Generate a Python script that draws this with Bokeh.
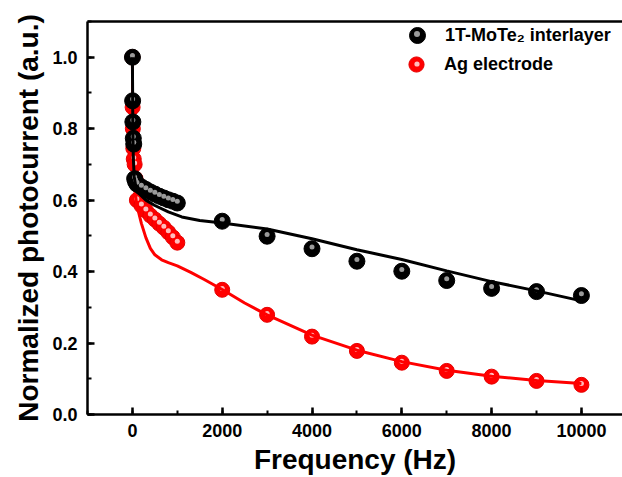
from bokeh.plotting import figure
from bokeh.models import (Range1d, SingleIntervalTicker, FixedTicker, LinearAxis,
                          Legend, LegendItem, ColumnDataSource, PrintfTickFormatter)
from bokeh.transform import dodge
from bokeh.embed import file_html
from bokeh.resources import INLINE

# ---- data ----
black_freq = [1, 5, 10, 20, 30, 50, 70, 100, 200, 300, 400, 500, 600, 700, 800, 900, 1000,
              2000, 3000, 4000, 5000, 6000, 7000, 8000, 9000, 10000]
black_norm = [1.0, 0.878, 0.819, 0.773, 0.757, 0.66, 0.652, 0.645, 0.637, 0.630, 0.623, 0.617,
              0.611, 0.606, 0.601, 0.597, 0.592,
              0.541, 0.499, 0.464, 0.429, 0.401, 0.375, 0.353, 0.344, 0.333]

red_freq = [1, 5, 10, 20, 30, 50, 70, 100, 200, 300, 400, 500, 600, 700, 800, 900, 1000,
            2000, 3000, 4000, 5000, 6000, 7000, 8000, 9000, 10000]
red_norm = [1.0, 0.86, 0.80, 0.745, 0.715, 0.70, 0.66, 0.60, 0.585, 0.571, 0.557, 0.546,
            0.534, 0.523, 0.510, 0.496, 0.481,
            0.349, 0.279, 0.218, 0.178, 0.145, 0.122, 0.106, 0.094, 0.083]

black_fit_freq = [0, 10, 20, 40, 80, 150, 300, 500, 800, 1100, 1500, 2000, 3000, 4000,
                  5000, 6000, 7000, 8000, 9000, 10000]
black_fit_norm = [1.0, 0.80, 0.72, 0.665, 0.635, 0.618, 0.60, 0.585, 0.567, 0.553, 0.543,
                  0.536, 0.519, 0.492, 0.461, 0.434, 0.402, 0.372, 0.346, 0.318]

red_fit_freq = [0, 5, 15, 40, 100, 200, 300, 400, 500, 650, 800, 1000, 1300, 1600, 2000,
                2500, 3000, 4000, 5000, 6000, 7000, 8000, 9000, 10000]
red_fit_norm = [1.0, 0.85, 0.72, 0.64, 0.585, 0.535, 0.495, 0.465, 0.447, 0.433, 0.425,
                0.416, 0.398, 0.378, 0.35, 0.312, 0.279, 0.222, 0.18, 0.148, 0.124, 0.107,
                0.095, 0.087]

series_labels = ["1T-MoTe\u2082 interlayer", "Ag electrode"]
x_label = "Frequency (Hz)"
y_label = "Normalized photocurrent (a.u.)"

FONT = "Liberation Sans"

p = figure(width=622, height=477, x_range=Range1d(-1000, 10915), y_range=Range1d(0, 1.1),
           output_backend="svg", toolbar_location=None,
           min_border_left=87, min_border_right=0, min_border_top=21, min_border_bottom=0)
p.outline_line_color = None
p.xgrid.visible = False
p.ygrid.visible = False
p.background_fill_color = "white"
p.border_fill_color = "white"

for ax, interval in ((p.xaxis[0], 2000), (p.yaxis[0], 0.2)):
    ax.ticker = SingleIntervalTicker(interval=interval, num_minor_ticks=2)
    ax.axis_line_width = 2.5
    ax.major_tick_line_width = 2.5
    ax.minor_tick_line_width = 2
    ax.major_tick_in = 7
    ax.major_tick_out = 0
    ax.minor_tick_in = 4
    ax.minor_tick_out = 0
    ax.major_label_text_font = FONT
    ax.major_label_text_font_style = "bold"
    ax.major_label_text_font_size = "18px"
    ax.major_label_text_color = "black"
    ax.axis_label_text_font = FONT
    ax.axis_label_text_font_style = "bold"
    ax.axis_label_text_font_size = "28px"
    ax.axis_label_text_color = "black"

p.xaxis[0].axis_label = x_label
p.yaxis[0].axis_label = y_label
p.yaxis[0].formatter = PrintfTickFormatter(format="%.1f")
p.xaxis[0].major_label_standoff = 9
p.xaxis[0].axis_label_standoff = 4
p.yaxis[0].major_label_standoff = 10
p.yaxis[0].axis_label_standoff = 5

top = LinearAxis(ticker=FixedTicker(ticks=[]), axis_line_width=2.5,
                 major_tick_in=0, major_tick_out=0, minor_tick_in=0, minor_tick_out=0,
                 major_label_standoff=0)
p.add_layout(top, "above")

black_src = ColumnDataSource(dict(f=black_freq, v=black_norm))
red_src = ColumnDataSource(dict(f=red_freq, v=red_norm))

# red series
r_ball = p.scatter("f", "v", source=red_src, size=15, fill_color="#ff0000",
                   line_color="#e60000", line_width=1)
r_hi = p.scatter("f", dodge("v", 0.004, range=p.y_range), source=red_src, size=5,
                 fill_color="#ffbdbd", line_color=None)
r_line = p.line(red_fit_freq, red_fit_norm, line_color="#ff0000", line_width=3)

# black series
b_ball = p.scatter("f", "v", source=black_src, size=16, fill_color="black",
                   line_color="black", line_width=1)
b_hi = p.scatter("f", dodge("v", 0.005, range=p.y_range), source=black_src, size=5,
                 fill_color="#9a9a9a", line_color=None)
b_line = p.line(black_fit_freq, black_fit_norm, line_color="black", line_width=3)


def make_legend(label, rend, loc, box, standoff):
    return Legend(items=[LegendItem(label=label, renderers=[rend])],
                  location=loc, orientation="vertical",
                  glyph_width=box, glyph_height=box, label_height=box,
                  label_standoff=standoff, padding=0, margin=0, spacing=0,
                  border_line_color=None, background_fill_alpha=0,
                  label_text_font=FONT, label_text_font_style="bold",
                  label_text_font_size="18px", label_text_color="black",
                  label_text_baseline="middle")


p.add_layout(make_legend(series_labels[0], b_ball, (310, 359), 40, 8))
p.add_layout(make_legend(series_labels[1], r_ball, (310, 331), 38, 9))
p.add_layout(make_legend(" ", b_hi, (322, 373), 15, 0))
p.add_layout(make_legend(" ", r_hi, (323, 344), 13, 0))

open("out.html", "w").write(file_html(p, INLINE))
